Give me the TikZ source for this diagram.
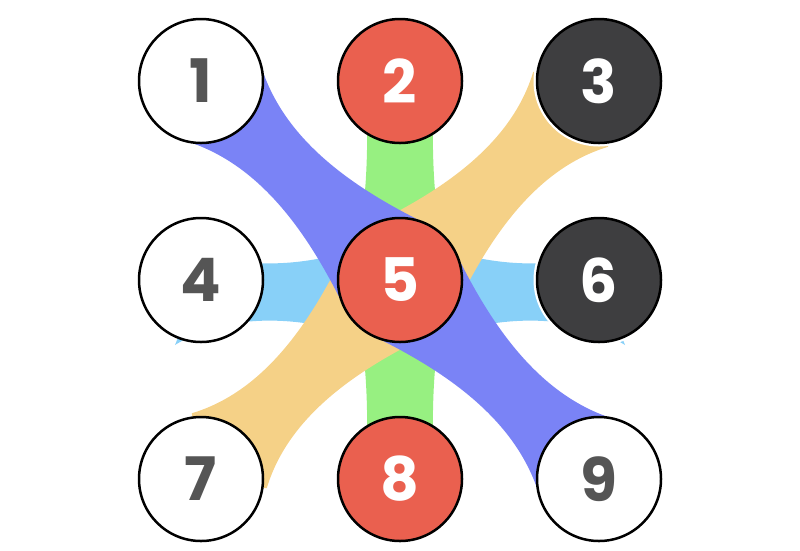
\documentclass[tikz,border=0pt]{standalone}
\usepackage{fontspec}
\setmainfont{Poppins}
\usetikzlibrary{calc, backgrounds}

\definecolor{ballred}{HTML}{EA604F}
\definecolor{balldark}{HTML}{3E3E40}
\definecolor{digitgray}{HTML}{555555}
\definecolor{bandblue}{HTML}{7A83F6}
\definecolor{bandorange}{HTML}{F5D187}
\definecolor{bandgreen}{HTML}{97F081}
\definecolor{bandsky}{HTML}{88D0F8}

% half of a band: outer ball -> centre ball
% #4 = shift of the axis, #5 = profile (along/half-width)
\newcommand\halfband[5]{%
  \foreach \a/\p [count=\i] in {#5} {
    \pgfmathsetmacro\pu{#4+\p}
    \pgfmathsetmacro\pd{#4-\p}
    \coordinate (u\i) at ($(#2)!\a pt!(#3)!\pu pt!90:(#3)$);
    \coordinate (d\i) at ($(#2)!\a pt!(#3)!\pd pt!90:(#3)$);
  }
  \fill[#1] (#2.center) -- (u1) .. controls (u2) and (u3) .. (u4) -- (#3.center)
    -- (d4) .. controls (d3) and (d2) .. (d1) -- cycle;
}

\begin{document}
\begin{tikzpicture}[
  x=1pt, y=-1pt,
  ball/.style={circle, draw=black, line width=2.5pt, minimum size=124pt,
    inner sep=0pt, font=\fontsize{60}{60}\selectfont\bfseries},
  plainball/.style={ball, fill=white, text=digitgray},
  redball/.style={ball, fill=ballred, text=white},
  darkball/.style={ball, fill=balldark, text=white,
    preaction={draw=white, line width=7pt}},
]
\useasboundingbox (0,0) rectangle (800,550);

% --- Balls ---
\node[plainball] (n1) at (201,81)  {1};
\node[redball]   (n2) at (400,81)  {2};
\node[darkball]  (n3) at (599,81)  {3};
\node[plainball] (n4) at (201,280) {4};
\node[redball]   (n5) at (400,280) {5};
\node[darkball]  (n6) at (599,280) {6};
\node[plainball] (n7) at (201,479) {7};
\node[redball]   (n8) at (400,479) {8};
\node[plainball] (n9) at (599,479) {9};

% --- Bands behind the balls ---
\begin{scope}[on background layer]
  \halfband{bandsky}{n4}{n5}{-12}{-26/53, 30/18, 110/24, 175/50}
  \halfband{bandsky}{n6}{n5}{12}{-26/53, 30/18, 110/24, 175/50}
  \halfband{bandgreen}{n2}{n5}{0}{30/33, 90/32, 140/35, 180/48}
  \halfband{bandgreen}{n8}{n5}{0}{30/33, 90/32, 140/35, 180/48}
  \halfband{bandorange}{n7}{n5}{0}{40/53, 105/18, 185/32, 265/60}
  \halfband{bandorange}{n3}{n5}{0}{40/53, 105/18, 185/32, 265/60}
  \halfband{bandblue}{n1}{n5}{0}{38/50, 105/18, 185/32, 265/60}
  \halfband{bandblue}{n9}{n5}{0}{38/50, 105/18, 185/32, 265/60}
\end{scope}

\end{tikzpicture}
\end{document}
